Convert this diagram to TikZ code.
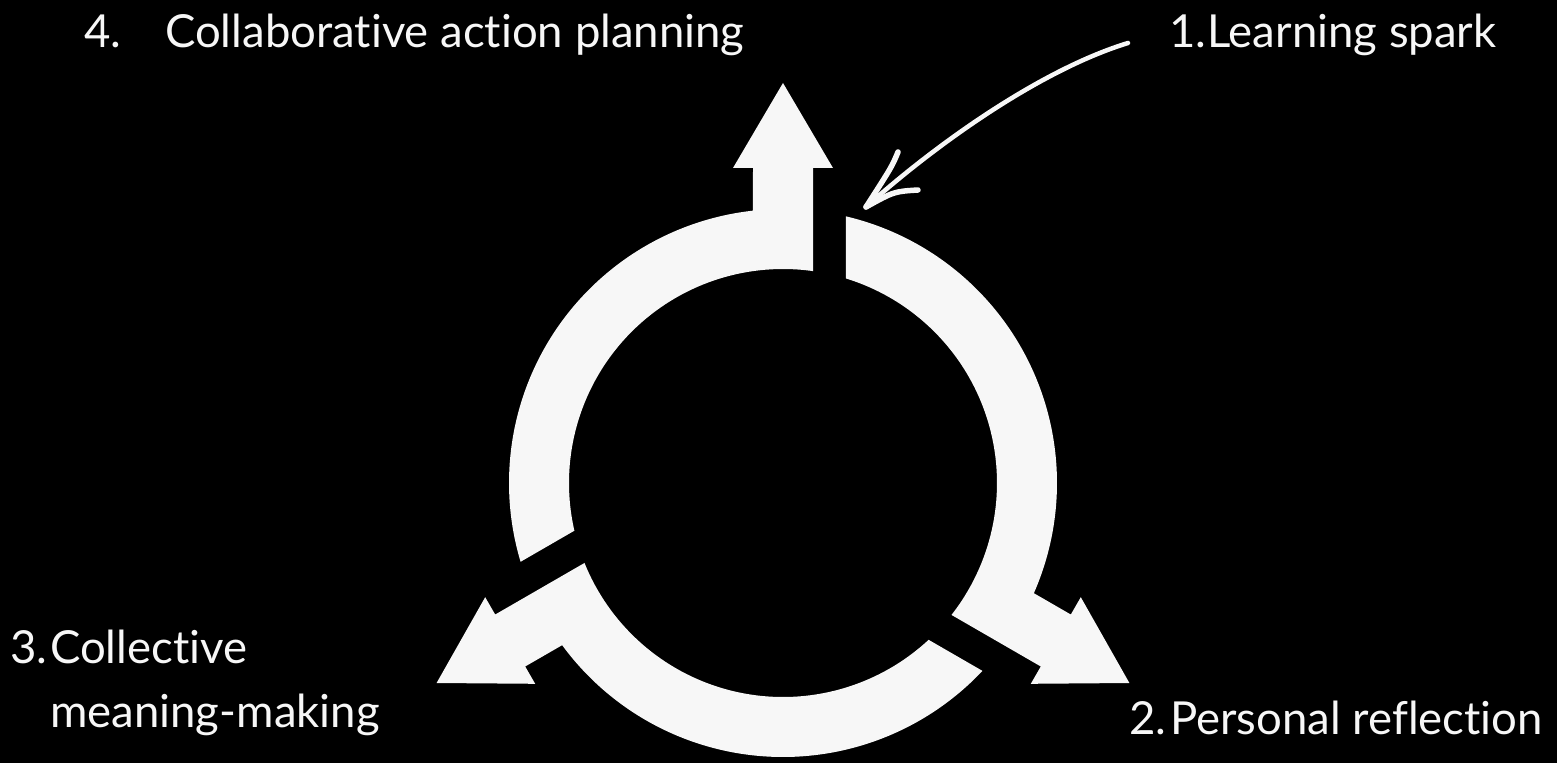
\documentclass[tikz,border=0pt]{standalone}
\usepackage{fontspec}
\setmainfont{Lato}[Ligatures=NoCommon]
\definecolor{ringwhite}{HTML}{F7F7F7}

\begin{document}
\begin{tikzpicture}[x=1pt, y=1pt, line cap=round, line join=round,
  ringpiece/.style={fill=ringwhite},
  steplabel/.style={anchor=base west, inner sep=0pt, text=ringwhite,
                    font=\fontsize{45.5}{64}\selectfont},
  spark/.style={draw=ringwhite, line width=4.5pt}]

  %% ════ 底色（原点 = 圆环圆心）════
  \fill[black] (-783,-280) rectangle (774,483);

  %% ════ 圆环 + 箭头：一段画好，绕圆心转 120° 复制 ════
  %% 内半径 214，外半径 274；箭杆宽 60，箭头底宽 100，尖在半径 400
  %% 段首 = 箭杆右缘 x=30；段尾 = 下一根箭杆方向偏 63 处（留缝）
  \foreach \r in {0,120,240}{
    \fill[ringpiece, rotate=\r]
      (81.94:214) -- (30,315) -- (50,315) -- (0,400) -- (-50,315) -- (-30,315)
      -- (96.29:274) arc[start angle=96.29, end angle=196.71, radius=274]
      -- (192.88:214) arc[start angle=192.88, end angle=81.94, radius=214]
      -- cycle;
  }

  %% ════ 四个步骤 ════
  %% 编号占固定宽度，正文对齐（3 是两行，第二行悬挂缩进）
  \node[steplabel] (spark) at (386,435) {\makebox[38pt][l]{1.}Learning spark};
  \node[steplabel] (reflect) at (346,-251) {\makebox[41pt][l]{2.}Personal reflection};
  \node[steplabel] (meaning) at (-773,-180)
    {\begin{tabular}[t]{@{}l@{}l@{}}\makebox[40pt][l]{3.}&Collective\\ &meaning-making\end{tabular}};
  \node[steplabel] (action) at (-699,435) {\makebox[81pt][l]{4.}Collaborative action planning};

  %% ════ 手绘箭头：从「1.」指向顶上的缝 ════
  \coordinate (sparktail) at (345,440);
  \coordinate (sparktip) at (83,276);
  \draw[spark] (sparktail) .. controls (257,413) and (152,338) .. (sparktip);
  \draw[spark, line width=5.5pt] (115,331) .. controls (109,316.5) .. (sparktip);
  \draw[spark, line width=5.5pt] (135,293) .. controls (111,291.5) .. (sparktip);

  \pgfresetboundingbox
  \path[use as bounding box] (-783,-280) rectangle (774,483);
\end{tikzpicture}
\end{document}
